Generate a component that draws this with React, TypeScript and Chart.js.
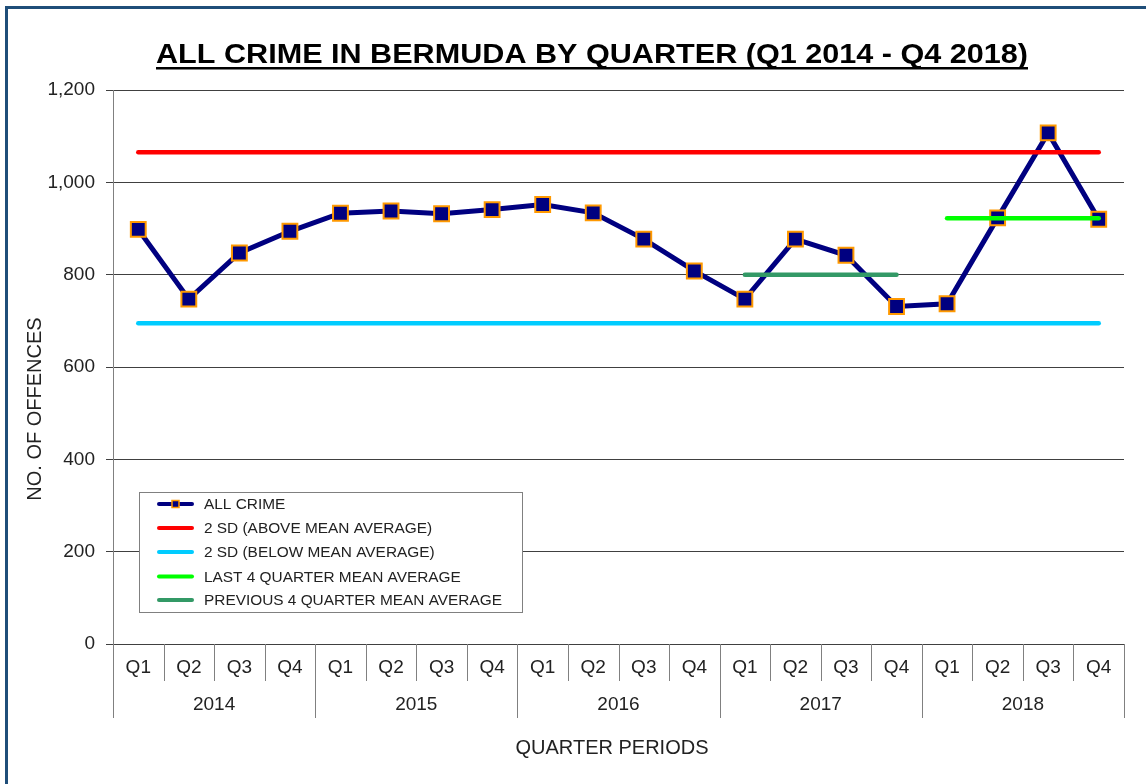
import React, { useEffect, useRef } from 'react';
import { Chart, registerables } from 'chart.js';

Chart.register(...registerables);

const FONT = '"Liberation Sans", Arial, sans-serif';

const titleText = 'ALL CRIME IN BERMUDA BY QUARTER (Q1 2014 - Q4 2018)';
const yTitle = 'NO. OF OFFENCES';
const xTitle = 'QUARTER PERIODS';

const quarters = ['Q1', 'Q2', 'Q3', 'Q4'];
const years = ['2014', '2015', '2016', '2017', '2018'];
const categories = years.flatMap((y) => quarters.map((q) => `${y} ${q}`));

const allCrime = [898, 747, 847, 894, 933, 938, 932, 941, 952, 934, 877, 808, 747, 877, 842, 731, 737, 923, 1107, 920];

const upperSD = 1065;
const lowerSD = 695;
const last4Mean = 922;
const prev4Mean = 800;

const yTicks = [0, 200, 400, 600, 800, 1000, 1200];

const seriesNames = [
  'ALL CRIME',
  '2 SD (ABOVE MEAN AVERAGE)',
  '2 SD (BELOW MEAN AVERAGE)',
  'LAST 4 QUARTER MEAN AVERAGE',
  'PREVIOUS 4 QUARTER MEAN AVERAGE',
];

const NAVY = '#000080';
const ORANGE = '#FF9900';
const RED = '#FF0000';
const CYAN = '#00CCFF';
const LIME = '#00FF00';
const SEA = '#339966';

const decorPlugin = {
  id: 'decor',
  beforeDraw(chart: any) {
    const ctx = chart.ctx;
    ctx.save();
    ctx.fillStyle = '#ffffff';
    ctx.fillRect(0, 0, chart.width, chart.height);
    ctx.restore();
  },
  afterDraw(chart: any) {
    const ctx = chart.ctx;
    const { left, right, bottom } = chart.chartArea;
    const xs = chart.scales.x;
    ctx.save();

    // outer frame
    ctx.strokeStyle = '#1F4E79';
    ctx.lineWidth = 3;
    ctx.strokeRect(6.5, 7.5, 1400, 1000);

    // title
    ctx.fillStyle = '#000';
    ctx.font = `bold 27px ${FONT}`;
    ctx.textAlign = 'center';
    ctx.textBaseline = 'alphabetic';
    const tx = 592;
    const ty = 63;
    const tw = ctx.measureText(titleText).width;
    const sx = 872 / tw;
    ctx.save();
    ctx.translate(tx, ty);
    ctx.scale(sx, 1);
    ctx.fillText(titleText, 0, 0);
    ctx.restore();
    ctx.fillRect(tx - 436, ty + 4, 872, 2.5);

    // y title
    ctx.save();
    ctx.fillStyle = '#222';
    ctx.font = `20px ${FONT}`;
    ctx.translate(35, 409);
    ctx.rotate(-Math.PI / 2);
    ctx.textBaseline = 'middle';
    ctx.fillText(yTitle, 0, 0);
    ctx.restore();

    // x title
    ctx.fillStyle = '#222';
    ctx.font = `20px ${FONT}`;
    ctx.textBaseline = 'middle';
    ctx.fillText(xTitle, 612, 748);

    // x category labels and separators
    ctx.font = `19px ${FONT}`;
    const n = categories.length;
    const centers = categories.map((_, i) => xs.getPixelForValue(i));
    const bounds: number[] = [left];
    for (let i = 0; i < n - 1; i++) bounds.push((centers[i] + centers[i + 1]) / 2);
    bounds.push(right);
    ctx.strokeStyle = '#808080';
    ctx.lineWidth = 1;
    for (let i = 0; i <= n; i++) {
      const x = Math.round(bounds[i]) + 0.5;
      const long = i % quarters.length === 0;
      ctx.beginPath();
      ctx.moveTo(x, bottom);
      ctx.lineTo(x, long ? 718 : 681);
      ctx.stroke();
    }
    ctx.fillStyle = '#222';
    categories.forEach((_, i) => {
      ctx.fillText(quarters[i % quarters.length], centers[i], 668);
    });
    years.forEach((y, j) => {
      const a = bounds[j * 4];
      const b = bounds[j * 4 + 4];
      ctx.fillText(y, (a + b) / 2, 705);
    });

    // legend
    const lx = 139.5, ly = 492.5, lw = 383, lh = 120;
    ctx.fillStyle = '#fff';
    ctx.fillRect(lx, ly, lw, lh);
    ctx.strokeStyle = '#808080';
    ctx.lineWidth = 1;
    ctx.strokeRect(lx, ly, lw, lh);
    const rows = [504, 528, 552, 576.5, 600];
    const colors = [NAVY, RED, CYAN, LIME, SEA];
    ctx.font = `15.4px ${FONT}`;
    ctx.textAlign = 'left';
    ctx.textBaseline = 'middle';
    rows.forEach((ry, i) => {
      ctx.strokeStyle = colors[i];
      ctx.lineWidth = 4;
      ctx.lineCap = 'round';
      ctx.beginPath();
      ctx.moveTo(159, ry);
      ctx.lineTo(192, ry);
      ctx.stroke();
      if (i === 0) {
        ctx.fillStyle = NAVY;
        ctx.fillRect(172, ry - 3.5, 7, 7);
        ctx.strokeStyle = ORANGE;
        ctx.lineWidth = 1.5;
        ctx.lineCap = 'butt';
        ctx.strokeRect(172, ry - 3.5, 7, 7);
      }
      ctx.fillStyle = '#222';
      ctx.fillText(seriesNames[i], 204, ry + 1);
    });

    ctx.restore();
  },
};

export default function App() {
  const ref = useRef<HTMLCanvasElement>(null);

  useEffect(() => {
    if (!ref.current) return;
    const first = categories[0];
    const last = categories[categories.length - 1];
    const chart = new Chart(ref.current, {
      type: 'line',
      data: {
        labels: categories,
        datasets: [
          {
            label: seriesNames[0],
            data: allCrime,
            borderColor: NAVY,
            borderWidth: 5,
            pointStyle: 'rect',
            pointRadius: 10.5,
            pointBackgroundColor: NAVY,
            pointBorderColor: ORANGE,
            pointBorderWidth: 2,
            tension: 0,
            order: 10,
          },
          {
            label: seriesNames[1],
            data: [{ x: first, y: upperSD }, { x: last, y: upperSD }],
            borderColor: RED,
            borderWidth: 4.5,
            borderCapStyle: 'round',
            pointRadius: 0,
            order: 1,
          },
          {
            label: seriesNames[2],
            data: [{ x: first, y: lowerSD }, { x: last, y: lowerSD }],
            borderColor: CYAN,
            borderWidth: 4.5,
            borderCapStyle: 'round',
            pointRadius: 0,
            order: 2,
          },
          {
            label: seriesNames[3],
            data: [{ x: categories[16], y: last4Mean }, { x: categories[19], y: last4Mean }],
            borderColor: LIME,
            borderWidth: 4.5,
            borderCapStyle: 'round',
            pointRadius: 0,
            order: 3,
          },
          {
            label: seriesNames[4],
            data: [{ x: categories[12], y: prev4Mean }, { x: categories[15], y: prev4Mean }],
            borderColor: SEA,
            borderWidth: 4.5,
            borderCapStyle: 'round',
            pointRadius: 0,
            order: 4,
          },
        ] as any,
      },
      options: {
        responsive: false,
        animation: false,
        layout: { padding: { top: 90, right: 22, bottom: 0, left: 0 } },
        plugins: {
          legend: { display: false },
          tooltip: { enabled: false },
          title: { display: false },
        },
        scales: {
          x: {
            type: 'category',
            offset: true,
            grid: { display: false },
            border: { display: false },
            ticks: { display: false },
            afterFit: (s: any) => {
              s.height = 140;
            },
          },
          y: {
            min: 0,
            max: 1200,
            afterBuildTicks: (s: any) => {
              s.ticks = yTicks.map((v) => ({ value: v }));
            },
            ticks: {
              color: '#222',
              font: { family: FONT, size: 19 },
              padding: 11,
              callback: (v: any) => Number(v).toLocaleString('en-US'),
            },
            grid: { color: '#404040', tickLength: 7, lineWidth: 1 },
            border: { color: '#808080' },
            afterFit: (s: any) => {
              s.width = 113;
            },
          },
        },
      } as any,
      plugins: [decorPlugin],
    });
    return () => chart.destroy();
  }, []);

  return (
    <div style={{ position: 'absolute', left: 0, top: 0, width: 1146, height: 784, background: '#fff' }}>
      <canvas ref={ref} width={1146} height={784} style={{ display: 'block', width: 1146, height: 784 }} />
    </div>
  );
}
